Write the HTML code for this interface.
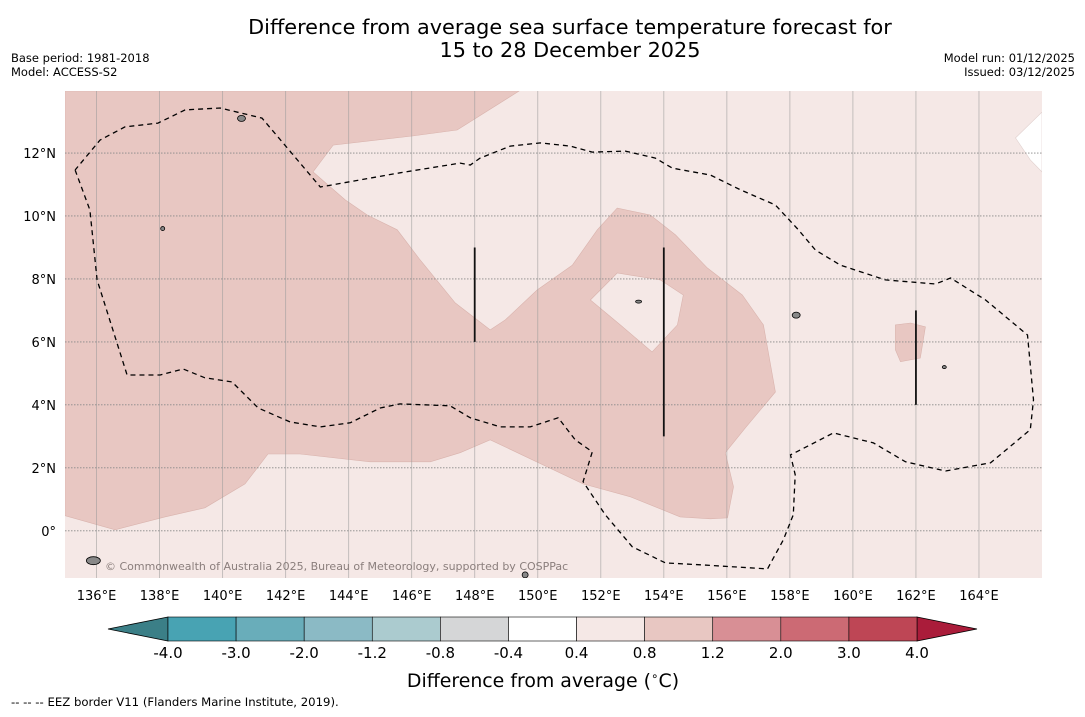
<!DOCTYPE html>
<html><head><meta charset="utf-8">
<style>
html,body{margin:0;padding:0;background:#fff;}
body{width:1085px;height:713px;overflow:hidden;font-family:"DejaVu Sans","Liberation Sans",sans-serif;}
svg text{font-family:"DejaVu Sans","Liberation Sans",sans-serif;}
</style></head>
<body>
<svg id="chart" width="1085" height="713" viewBox="0 0 1085 713" xmlns="http://www.w3.org/2000/svg">
<text x="570" y="34" font-size="20.8" text-anchor="middle" fill="#000">Difference from average sea surface temperature forecast for</text>
<text x="570" y="57" font-size="20.8" text-anchor="middle" fill="#000">15 to 28 December 2025</text>
<text x="11" y="62" font-size="11.5">Base period: 1981-2018</text>
<text x="11" y="76" font-size="11.5">Model: ACCESS-S2</text>
<text x="1075" y="62" font-size="11.5" text-anchor="end">Model run: 01/12/2025</text>
<text x="1075" y="76" font-size="11.5" text-anchor="end">Issued: 03/12/2025</text>
<defs><clipPath id="mapclip"><rect x="65" y="91" width="977" height="487"/></clipPath></defs>
<rect x="65" y="91" width="977" height="487" fill="#f5e8e6"/>
<g id="mapg" clip-path="url(#mapclip)"></g>
<g id="axes"></g>
<g id="cbar"></g>
<text x="543" y="687" font-size="18.9" text-anchor="middle">Difference from average (<tspan font-size="12" dy="-7">∘</tspan><tspan dy="7">C)</tspan></text>
<text x="11" y="706" font-size="11.7">--  --  -- EEZ border V11 (Flanders Marine Institute, 2019).</text>
</svg>
<script>
// map extent
const lonMin=135.0, lonMax=166.0, latMin=-1.5, latMax=13.97;
const lonTicks=[136,138,140,142,144,146,148,150,152,154,156,158,160,162,164];
const latTicks=[0,2,4,6,8,10,12];
const latLabels=["0°","2°N","4°N","6°N","8°N","10°N","12°N"];
// 0.8-1.2 anomaly region
const warmLon=[135.0,149.41,147.44,146.02,143.51,142.87,143.89,144.59,145.54,146.27,147.38,148.49,148.97,149.98,151.10,151.89,152.52,153.57,154.37,155.38,156.49,157.16,157.54,156.59,155.95,156.21,156.02,155.48,154.52,152.94,151.44,148.49,147.54,146.59,144.68,142.46,141.44,140.71,139.44,138.17,136.59,135.0];
const warmLat=[13.97,13.97,12.73,12.54,12.25,11.40,10.51,10.03,9.56,8.60,7.24,6.38,6.70,7.65,8.44,9.56,10.25,10.03,9.40,8.35,7.49,6.54,4.41,3.27,2.48,1.40,0.41,0.38,0.44,1.08,1.49,2.89,2.48,2.19,2.19,2.44,2.44,1.49,0.73,0.44,0.03,0.48];
const holeLon=[151.67,152.52,153.89,154.62,154.43,153.63,152.62];
const holeLat=[7.33,8.19,7.97,7.49,6.54,5.68,6.54];
const patchLon=[161.35,161.83,162.30,162.14,161.51,161.35];
const patchLat=[6.54,6.60,6.48,5.49,5.37,5.75];
const whiteLon=[166.0,165.16,165.63,166.0];
const whiteLat=[13.30,12.48,11.78,11.40];
// EEZ border
const eezLon=[135.32,135.79,136.02,136.97,138.02,138.75,139.44,140.30,141.13,142.14,143.10,144.05,145.00,145.63,147.22,147.86,148.81,149.76,150.65,151.19,151.73,151.44,152.14,153.00,154.05,155.16,157.29,157.79,158.11,158.17,158.02,158.65,159.38,160.65,161.67,162.94,164.37,165.63,165.73,165.54,164.21,163.10,162.62,161.03,159.60,158.81,158.27,157.54,156.43,155.48,154.27,153.73,152.78,151.73,151.03,150.08,149.13,148.17,147.86,147.54,145.63,143.10,142.46,141.25,139.92,138.81,137.95,136.90,136.11,135.32];
const eezLat=[11.46,10.19,7.97,4.95,4.95,5.14,4.86,4.73,3.90,3.46,3.30,3.43,3.90,4.03,3.97,3.59,3.30,3.30,3.59,2.89,2.51,1.56,0.51,-0.51,-1.02,-1.08,-1.21,-0.29,0.51,1.78,2.41,2.73,3.11,2.79,2.19,1.90,2.16,3.21,4.16,6.22,7.33,8.03,7.84,7.97,8.44,8.92,9.56,10.35,10.83,11.30,11.52,11.84,12.06,12.03,12.22,12.32,12.22,11.84,11.62,11.68,11.37,10.92,11.68,13.11,13.43,13.37,12.95,12.83,12.41,11.46];
const segLon=[148,154,162];
const segLat0=[6,3,4];
const segLat1=[9,9,7];
// colorbar
const cbLevels=["-4.0","-3.0","-2.0","-1.2","-0.8","-0.4","0.4","0.8","1.2","2.0","3.0","4.0"];
const cbColors=["#48a3b3","#69adba","#8bbac5","#abcbcf","#d5d6d7","#ffffff","#f5e8e6","#e8c7c2","#d88f95","#cc6a74","#be4655"];

const NS="http://www.w3.org/2000/svg";
const X0=65,X1=1042,Y0=91,Y1=578;
const xs=lon=>X0+(lon-lonMin)/(lonMax-lonMin)*(X1-X0);
const ys=lat=>Y1-(lat-latMin)/(latMax-latMin)*(Y1-Y0);
function mk(tag,attrs,parent){const e=document.createElementNS(NS,tag);for(const k in attrs)e.setAttribute(k,attrs[k]);parent.appendChild(e);return e;}
const pts=(lo,la)=>lo.map((v,i)=>xs(v).toFixed(1)+","+ys(la[i]).toFixed(1)).join(" ");
const map=document.getElementById("mapg");

let p=mk("polygon",{points:pts(warmLon,warmLat),fill:"#e8c7c2",stroke:"#d9b3ad","stroke-width":"0.6"},map);


p=mk("polygon",{points:pts(holeLon,holeLat),fill:"#f5e8e6",stroke:"#d9b3ad","stroke-width":"0.6"},map);


p=mk("polygon",{points:pts(patchLon,patchLat),fill:"#e8c7c2",stroke:"#d9b3ad","stroke-width":"0.6"},map);


p=mk("polygon",{points:pts(whiteLon,whiteLat)+" "+xs(166)+","+ys(13.3),fill:"#ffffff",stroke:"#e0d0ce","stroke-width":"0.6"},map);



// grid
lonTicks.forEach(l=>{const g=mk("line",{x1:xs(l),x2:xs(l),y1:Y0,y2:Y1,stroke:"#999","stroke-opacity":"0.6","stroke-width":"0.9"},map);

});
latTicks.forEach(l=>{const g=mk("line",{x1:X0,x2:X1,y1:ys(l),y2:ys(l),stroke:"#888","stroke-dasharray":"1.5,1.5","stroke-width":"0.9"},map);

});

// EEZ
p=mk("polyline",{points:pts(eezLon,eezLat),fill:"none",stroke:"#000","stroke-width":"1.3","stroke-dasharray":"5,4"},map);


segLon.forEach((l,i)=>{const s=mk("line",{x1:xs(l),x2:xs(l),y1:ys(segLat0[i]),y2:ys(segLat1[i]),stroke:"#111","stroke-width":"1.8"},map);

});

// islands
[[140.6,13.1,4,3],[158.2,6.85,4,3],[162.9,5.2,2,1.5],[153.2,7.28,3,1.5],[135.9,-0.95,7,4],[149.6,-1.4,3,3],[138.1,9.6,2,2]].forEach(d=>{
const e=mk("ellipse",{cx:xs(d[0]),cy:ys(d[1]),rx:d[2],ry:d[3],fill:"#888",stroke:"#000","stroke-width":"0.8"},map);

});

const wm=mk("text",{x:105,y:570,"font-size":"11",fill:"#8a7e7c"},map);
wm.textContent="© Commonwealth of Australia 2025, Bureau of Meteorology, supported by COSPPac";



// axis labels
const ax=document.getElementById("axes");
lonTicks.forEach(l=>{const t=mk("text",{x:xs(l),y:600,"font-size":"13","text-anchor":"middle"},ax);t.textContent=l+"°E";

});
latTicks.forEach((l,i)=>{const t=mk("text",{x:56,y:ys(l)+5,"font-size":"13","text-anchor":"end"},ax);t.textContent=latLabels[i];

});

// colorbar
const cb=document.getElementById("cbar");
const cx0=168,cx1=917,cy0=617,cy1=641,n=cbColors.length,w=(cx1-cx0)/n;
let tri=mk("polygon",{points:`${cx0},${cy0} 108,${(cy0+cy1)/2} ${cx0},${cy1}`,fill:"#3b7f87",stroke:"#000","stroke-width":"0.8"},cb);


tri=mk("polygon",{points:`${cx1},${cy0} 977,${(cy0+cy1)/2} ${cx1},${cy1}`,fill:"#aa1c3a",stroke:"#000","stroke-width":"0.8"},cb);


cbColors.forEach((c,i)=>{const r=mk("rect",{x:cx0+i*w,y:cy0,width:w,height:cy1-cy0,fill:c,stroke:"#000","stroke-width":"0.6"},cb);

});
cbLevels.forEach((s,i)=>{const t=mk("text",{x:cx0+i*w,y:658,"font-size":"15","text-anchor":"middle"},cb);t.textContent=s;

});
</script>
</body></html>
